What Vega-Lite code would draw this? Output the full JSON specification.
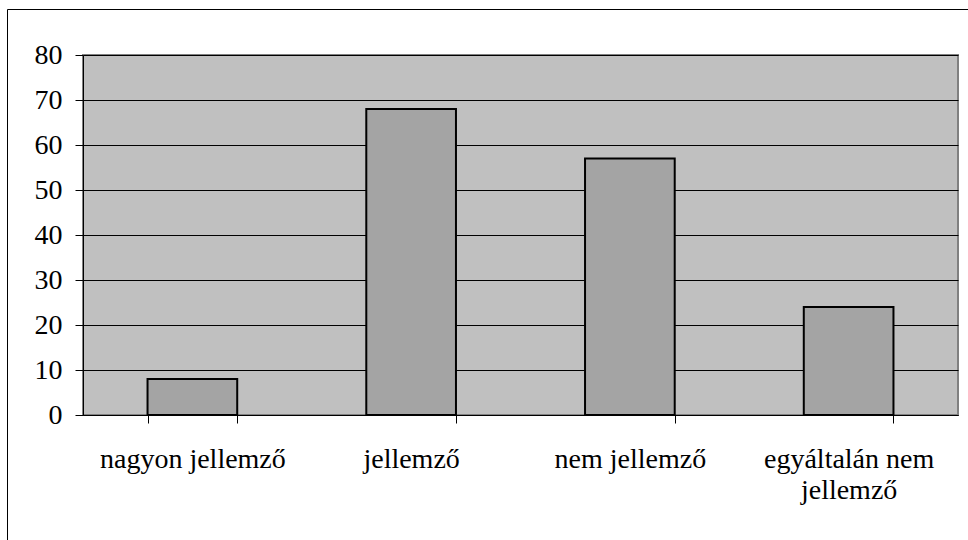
{
  "$schema": "https://vega.github.io/schema/vega-lite/v6.json",
  "width": 875,
  "height": 360,
  "autosize": {"type": "none"},
  "padding": {"left": 83, "top": 55, "right": 10, "bottom": 125},
  "background": "white",
  "config": {
    "view": {"fill": "#C0C0C0", "stroke": "#808080", "strokeWidth": 2},
    "font": "Liberation Serif"
  },
  "data": {
    "values": [
      {"kategoria": "nagyon jellemző", "ertek": 8},
      {"kategoria": "jellemző", "ertek": 68},
      {"kategoria": "nem jellemző", "ertek": 57},
      {"kategoria": "egyáltalán nem jellemző", "ertek": 24}
    ]
  },
  "mark": {"type": "bar", "stroke": "black", "strokeWidth": 2},
  "encoding": {
    "x": {
      "field": "kategoria",
      "type": "nominal",
      "sort": null,
      "scale": {"paddingInner": 0.59, "paddingOuter": 0.295},
      "axis": {
        "title": null,
        "labelAngle": 0,
        "labelFont": "Liberation Serif",
        "labelFontSize": 28,
        "labelColor": "black",
        "labelPadding": 22,
        "labelLineHeight": 31,
        "labelLimit": 0,
        "tickBand": "extent",
        "tickSize": 8,
        "tickColor": "black",
        "domainColor": "black",
        "domainWidth": 1,
        "labelExpr": "datum.label == 'egyáltalán nem jellemző' ? ['egyáltalán nem', 'jellemző'] : datum.label"
      }
    },
    "y": {
      "field": "ertek",
      "type": "quantitative",
      "scale": {"domain": [0, 80], "nice": false},
      "axis": {
        "title": null,
        "values": [0, 10, 20, 30, 40, 50, 60, 70, 80],
        "labelFont": "Liberation Serif",
        "labelFontSize": 28,
        "labelColor": "black",
        "labelPadding": 13,
        "tickSize": 8,
        "tickColor": "black",
        "domainColor": "black",
        "grid": true,
        "gridColor": "black",
        "gridOpacity": 1,
        "gridWidth": 1
      }
    },
    "fill": {
      "datum": "oszlop",
      "type": "nominal",
      "scale": {"range": ["#A4A4A4"]},
      "legend": {
        "title": null,
        "orient": "none",
        "legendX": -76,
        "legendY": -46,
        "padding": 700,
        "strokeColor": "black",
        "symbolOpacity": 0,
        "labelOpacity": 0,
        "labelExpr": "''"
      }
    }
  }
}
